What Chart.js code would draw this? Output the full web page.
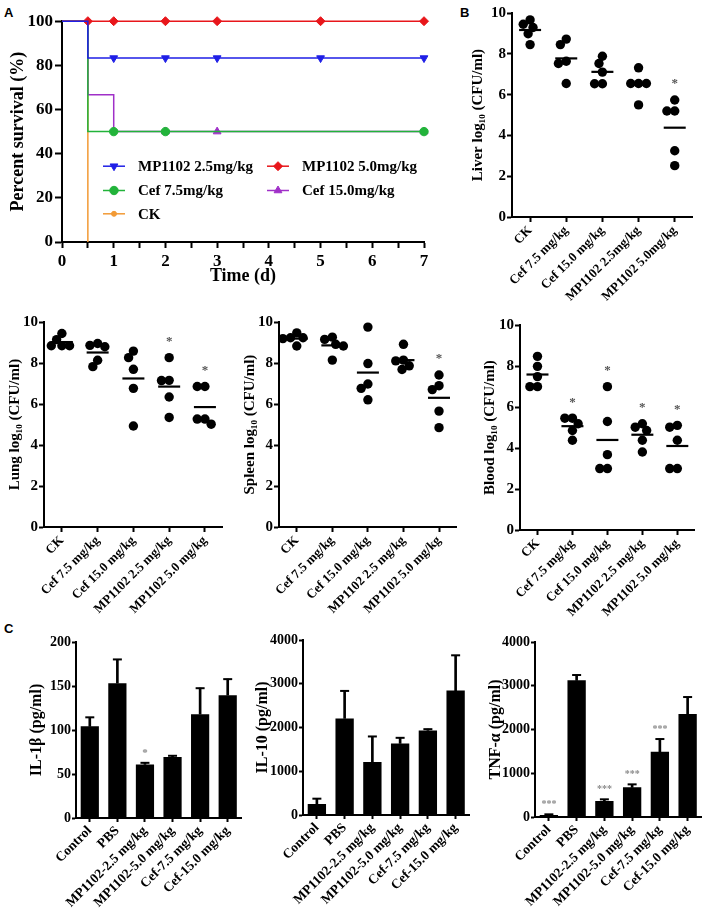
<!DOCTYPE html>
<html><head><meta charset="utf-8">
<script src="https://cdn.jsdelivr.net/npm/chart.js@4/dist/chart.umd.min.js"></script>
<style>
html,body{margin:0;padding:0;background:#fff;}
body{width:708px;height:918px;position:relative;overflow:hidden;}
canvas{position:absolute;}
.pl{position:absolute;font:bold 13px "Liberation Sans",Arial,sans-serif;color:#000;line-height:13px;}
</style></head>
<body>
<div class="pl" style="left:4px;top:6px">A</div>
<div class="pl" style="left:460px;top:6px">B</div>
<div class="pl" style="left:4px;top:622px">C</div>
<script>
// ================= DATA =================
// Panel A: survival
const survTimes = [0, 0.5, 1, 2, 3, 5, 7];
const survMP25  = [100, 83.3, 83.3, 83.3, 83.3, 83.3, 83.3];
const survMP50  = [100, 100, 100, 100, 100, 100, 100];
const survCef75 = [100, 50, 50, 50, 50, 50, 50];
const survCef15 = [100, 66.7, 50, 50, 50, 50, 50];
const survCK    = [100, 0];
const marksMP25  = [1, 2, 3, 5, 7];
const marksMP50  = [0.5, 1, 2, 3, 5, 7];
const marksCef75 = [1, 2, 7];
const marksCef15 = [2, 3, 7];
const marksCK    = [];
const survLabels = ['MP1102 2.5mg/kg', 'MP1102 5.0mg/kg', 'Cef 7.5mg/kg', 'Cef 15.0mg/kg', 'CK'];
const survXTicks = [0, 1, 2, 3, 4, 5, 6, 7];

// Panel B: bacterial loads (log10 CFU/ml)
const liverCats = ['CK', 'Cef 7.5 mg/kg', 'Cef 15.0 mg/kg', 'MP1102 2.5mg/kg', 'MP1102 5.0mg/kg'];
const organCats = ['CK', 'Cef 7.5 mg/kg', 'Cef 15.0 mg/kg', 'MP1102 2.5 mg/kg', 'MP1102 5.0 mg/kg'];
const liverCK   = [9.46, 9.30, 9.67, 8.99, 8.46];
const liverCef75= [8.46, 8.73, 7.64, 7.53, 6.55];
const liverCef15= [7.89, 7.11, 7.53, 6.54, 6.54];
const liverMP25 = [7.32, 6.55, 6.55, 6.55, 5.50];
const liverMP50 = [5.74, 5.20, 5.20, 3.25, 2.52];
const liverSig  = ['', '', '', '', '*'];

const lungCK    = [9.45, 9.15, 8.85, 8.85, 8.85];
const lungCef75 = [8.87, 8.96, 8.80, 8.14, 7.83];
const lungCef15 = [8.59, 8.27, 7.70, 6.77, 4.93];
const lungMP25  = [8.27, 7.15, 7.16, 6.35, 5.35];
const lungMP50  = [6.86, 6.86, 5.27, 5.02, 5.27];
const lungSig   = ['', '', '', '*', '*'];

const spleenCK    = [9.48, 9.24, 9.24, 9.20, 8.84];
const spleenCef75 = [9.27, 9.16, 8.92, 8.84, 8.15];
const spleenCef15 = [9.76, 7.98, 6.98, 6.77, 6.21];
const spleenMP25  = [8.92, 8.11, 8.15, 7.69, 7.87];
const spleenMP50  = [7.42, 6.90, 6.71, 5.66, 4.85];
const spleenSig   = ['', '', '', '', '*'];

const bloodCK    = [8.48, 7.99, 7.49, 7.00, 7.00];
const bloodCef75 = [5.46, 5.46, 5.19, 4.86, 4.38];
const bloodCef15 = [7.00, 5.30, 3.68, 3.00, 3.00];
const bloodMP25  = [5.19, 5.02, 4.86, 4.38, 3.81];
const bloodMP50  = [5.02, 5.11, 4.38, 3.00, 3.00];
const bloodSig   = ['', '*', '*', '*', '*'];

// Panel C: cytokines (mean, SD)
const cytoCats = ['Control', 'PBS', 'MP1102-2.5 mg/kg', 'MP1102-5.0 mg/kg', 'Cef-7.5 mg/kg', 'Cef-15.0 mg/kg'];
const il1bMean = [104.2, 153.2, 60.8, 69.2, 117.9, 139.5];
const il1bErr  = [10.2, 27.0, 1.9, 1.5, 29.6, 18.3];
const il1bSig  = ['', '', '*', '', '', ''];
const il10Mean = [251, 2205, 1209, 1635, 1932, 2844];
const il10Err  = [122, 631, 586, 129, 30, 806];
const il10Sig  = ['', '', '', '', '', ''];
const tnfMean  = [46, 3123, 366, 678, 1493, 2353];
const tnfErr   = [15, 122, 38, 68, 289, 389];
const tnfSig   = ['***', '', '***', '***', '***', ''];

// ================= HELPERS =================
const SERIF = '"Liberation Serif", "Times New Roman", "DejaVu Serif", serif';
Chart.defaults.font.family = SERIF;
Chart.defaults.color = '#000';

function makeCanvas(left, top, w, h) {
  const c = document.createElement('canvas');
  c.width = Math.round(w); c.height = Math.round(h);
  c.style.left = Math.round(left) + 'px';
  c.style.top = Math.round(top) + 'px';
  c.style.width = Math.round(w) + 'px';
  c.style.height = Math.round(h) + 'px';
  document.body.appendChild(c);
  return c;
}
function bf(size) { return {family: SERIF, size: size, weight: 'bold'}; }
const axisGrid = (tl) => ({display: true, drawOnChartArea: false, drawTicks: true, tickLength: tl, tickColor: '#000', tickWidth: 2});
const axisBorder = {display: true, color: '#000', width: 2};
const plainNum = (v) => String(v);

// beeswarm-style horizontal spread of dots sharing similar values
function swarm(vals, pxY, pxX, d) {
  const order = vals.map((v, i) => i).sort((a, b) => vals[b] - vals[a]);
  const placed = []; const off = new Array(vals.length).fill(0);
  for (const i of order) {
    const y = vals[i] * pxY; let best = null;
    for (let k = 0; k < 200 && best === null; k++) {
      const cands = k === 0 ? [0] : [-k * 0.5, k * 0.5];
      for (const c of cands) {
        if (placed.every(p => Math.hypot(p.x - c, p.y - y) >= d)) { best = c; break; }
      }
    }
    placed.push({x: best, y: y}); off[i] = best / pxX;
  }
  return off;
}

const sigPlugin = {
  id: 'sigMarks',
  afterDatasetsDraw(chart, args, opts) {
    if (!opts || !opts.items) return;
    const {ctx} = chart; const ys = chart.scales.y, xs = chart.scales.x;
    ctx.save();
    ctx.fillStyle = opts.color || '#555';
    ctx.font = 'bold ' + (opts.size || 13) + 'px ' + SERIF;
    ctx.textAlign = 'center'; ctx.textBaseline = 'middle';
    opts.items.forEach(it => {
      if (!it.text) return;
      ctx.fillText(it.text, xs.getPixelForValue(it.x), ys.getPixelForValue(it.y) - opts.gap);
    });
    ctx.restore();
  }
};

const baseOpts = {
  responsive: false, maintainAspectRatio: false, animation: false, events: [],
  devicePixelRatio: 1
};

// ================= PANEL A =================
(function () {
  const area = {l: 62, r: 424, t: 21, b: 242};
  const left = 0, padTop = 12, padRight = 14, xH = 48;
  const yW = area.l - left;
  const cv = makeCanvas(left, area.t - padTop, yW + (area.r - area.l) + padRight, padTop + (area.b - area.t) + xH);
  const series = [
    {vals: survMP25, marks: marksMP25, color: '#1f1fe6', style: 'triangle', rot: 180, r: 4.5, lr: 4.5},
    {vals: survMP50, marks: marksMP50, color: '#e8161b', style: 'rectRot', rot: 0, r: 4.5, lr: 4.5},
    {vals: survCef75, marks: marksCef75, color: '#22b33a', style: 'circle', rot: 0, r: 4.2, lr: 4.2},
    {vals: survCef15, marks: marksCef15, color: '#a030c8', style: 'triangle', rot: 0, r: 4.5, lr: 4.5},
    {vals: survCK, marks: marksCK, color: '#f29a35', style: 'circle', rot: 0, r: 2.5, lr: 2.5}
  ];
  const datasets = series.map((s, k) => ({
    label: survLabels[k],
    data: s.vals.map((v, i) => ({x: survTimes[i], y: v})),
    stepped: 'before',
    borderColor: s.color, backgroundColor: s.color, borderWidth: 1.5,
    pointStyle: s.style, rotation: s.rot, pointBorderWidth: 1,
    pointRadius: (ctx) => (ctx.raw && s.marks.includes(ctx.raw.x)) ? s.r : 0,
    legendR: s.lr, fill: false, clip: false, tension: 0
  }));
  const legendPlugin = {
    id: 'survLegend',
    afterDatasetsDraw(chart) {
      const {ctx, chartArea: a} = chart;
      ctx.save();
      chart.data.datasets.forEach((ds, i) => {
        const col = i % 2, row = Math.floor(i / 2);
        const x0 = a.left + [41, 205][col];
        const y = a.top + [145, 169.3, 192.6][row];
        ctx.strokeStyle = ds.borderColor; ctx.lineWidth = 1.5;
        ctx.beginPath(); ctx.moveTo(x0, y); ctx.lineTo(x0 + 22, y); ctx.stroke();
        ctx.fillStyle = ds.borderColor; ctx.lineWidth = 1;
        if (Chart.helpers && Chart.helpers.drawPoint) {
          Chart.helpers.drawPoint(ctx, {pointStyle: ds.pointStyle, rotation: ds.rotation || 0, radius: ds.legendR, borderWidth: 1}, x0 + 11, y);
        }
        ctx.fillStyle = '#000'; ctx.font = 'bold 15px ' + SERIF;
        ctx.textAlign = 'left'; ctx.textBaseline = 'middle';
        ctx.fillText(ds.label, x0 + 35, y + 1);
      });
      ctx.restore();
    }
  };
  new Chart(cv, {
    type: 'line',
    data: {datasets},
    options: Object.assign({}, baseOpts, {
      layout: {padding: {top: padTop, right: padRight, left: 0, bottom: 0}},
      plugins: {legend: {display: false}, tooltip: {enabled: false}},
      scales: {
        x: {type: 'linear', min: 0, max: 7,
            afterBuildTicks: (s) => { s.ticks = []; for (let v = 0; v <= 7; v += 0.5) s.ticks.push({value: v}); },
            afterFit: (s) => { s.height = xH; },
            ticks: {callback: (v) => survXTicks.includes(v) ? String(v) : '', autoSkip: false, maxRotation: 0, font: bf(17), color: '#000', padding: 3},
            grid: axisGrid(6), border: axisBorder,
            title: {display: true, text: 'Time (d)', font: {family: SERIF, size: 18, weight: 'bold', lineHeight: 1}, color: '#000', padding: {top: 0, bottom: 5}}},
        y: {min: 0, max: 100,
            afterFit: (s) => { s.width = yW; },
            ticks: {stepSize: 20, font: bf(17), color: '#000', padding: 2, callback: plainNum},
            grid: axisGrid(7), border: axisBorder,
            title: {display: true, text: 'Percent survival (%)', font: {family: SERIF, size: 18, weight: 'bold', lineHeight: 1}, color: '#000', padding: {top: 9, bottom: 0}}}
      }
    }),
    plugins: [legendPlugin]
  });
})();

// ================= SCATTER PANELS =================
function scatterPanel(cfg) {
  const {cats, groups, sig, title, area, left, right, padTitle} = cfg;
  const padTop = 12, xH = 100;
  const yW = area.l - left;
  const w = right - left, padRight = right - area.r;
  const cv = makeCanvas(left, area.t - padTop, w, padTop + (area.b - area.t) + xH);
  const pxY = (area.b - area.t) / 10, pxX = (area.r - area.l) / cats.length;
  const dots = [], means = [], sigItems = [];
  groups.forEach((vals, i) => {
    const offs = swarm(vals, pxY, pxX, 8);
    vals.forEach((v, j) => dots.push({x: i + offs[j], y: v}));
    means.push({x: i, y: vals.reduce((a, b) => a + b, 0) / vals.length});
    sigItems.push({x: i, y: Math.max.apply(null, vals), text: sig[i]});
  });
  new Chart(cv, {
    type: 'scatter',
    data: {datasets: [
      {data: dots, pointStyle: 'circle', pointRadius: 4.7, backgroundColor: '#000', borderColor: '#000', borderWidth: 0, clip: false},
      {data: means, pointStyle: 'line', pointRadius: 11, borderColor: '#000', backgroundColor: '#000', borderWidth: 2.2, clip: false}
    ]},
    options: Object.assign({}, baseOpts, {
      layout: {padding: {top: padTop, right: padRight, left: 0, bottom: 0}},
      plugins: {legend: {display: false}, tooltip: {enabled: false},
                sigMarks: {items: sigItems, gap: 16, size: 13, color: '#555'}},
      scales: {
        x: {type: 'linear', min: -0.5, max: cats.length - 0.5,
            afterBuildTicks: (s) => { s.ticks = cats.map((c, i) => ({value: i})); },
            afterFit: (s) => { s.height = xH; },
            ticks: {callback: (v) => cats[v] !== undefined ? cats[v] : '', autoSkip: false, maxRotation: 45, minRotation: 45, font: bf(13), color: '#000', padding: 1},
            grid: axisGrid(5), border: axisBorder},
        y: {min: 0, max: 10,
            afterFit: (s) => { s.width = yW; },
            ticks: {stepSize: 2, font: bf(15), color: '#000', padding: 1, callback: plainNum},
            grid: axisGrid(5), border: axisBorder,
            title: {display: true, text: title, font: {family: SERIF, size: 15, weight: 'bold', lineHeight: 1}, color: '#000', padding: {top: padTitle, bottom: 0}}}
      }
    }),
    plugins: [sigPlugin]
  });
}

scatterPanel({cats: liverCats, groups: [liverCK, liverCef75, liverCef15, liverMP25, liverMP50], sig: liverSig,
  title: 'Liver log\u2081\u2080 (CFU/ml)', area: {l: 512, r: 697, t: 12, b: 217}, left: 470, right: 706, padTitle: 1});
scatterPanel({cats: organCats, groups: [lungCK, lungCef75, lungCef15, lungMP25, lungMP50], sig: lungSig,
  title: 'Lung log\u2081\u2080 (CFU/ml)', area: {l: 44, r: 230, t: 321, b: 527}, left: 0, right: 236, padTitle: 7.5});
scatterPanel({cats: organCats, groups: [spleenCK, spleenCef75, spleenCef15, spleenMP25, spleenMP50], sig: spleenSig,
  title: 'Spleen log\u2081\u2080 (CFU/ml)', area: {l: 279, r: 464, t: 321, b: 527}, left: 236, right: 470, padTitle: 6.5});
scatterPanel({cats: organCats, groups: [bloodCK, bloodCef75, bloodCef15, bloodMP25, bloodMP50], sig: bloodSig,
  title: 'Blood log\u2081\u2080 (CFU/ml)', area: {l: 520, r: 704, t: 324, b: 530}, left: 476, right: 708, padTitle: 6.5});

// ================= BAR PANELS =================
function barPanel(cfg) {
  const {cats, means, errs, sig, title, area, left, right, yMax, yStep, padTitle, sigSize} = cfg;
  const padTop = 12, xH = 918 - area.b;
  const yW = area.l - left;
  const w = right - left, padRight = right - area.r;
  const cv = makeCanvas(left, area.t - padTop, w, padTop + (area.b - area.t) + xH);
  const tops = means.map((m, i) => m + errs[i]);
  const sigItems = cats.map((c, i) => ({x: i, y: tops[i], text: sig[i]}));
  new Chart(cv, {
    type: 'bar',
    data: {labels: cats, datasets: [
      {type: 'line', data: tops, showLine: false, pointStyle: 'line', pointRadius: 4.5, borderColor: '#000', backgroundColor: '#000', borderWidth: 2, clip: false},
      {type: 'bar', data: means.map((m, i) => [m, tops[i]]), backgroundColor: '#000', grouped: false, barThickness: 2},
      {type: 'bar', data: means, backgroundColor: '#000', grouped: false, barPercentage: 0.66, categoryPercentage: 1}
    ]},
    options: Object.assign({}, baseOpts, {
      layout: {padding: {top: padTop, right: padRight, left: 0, bottom: 0}},
      plugins: {legend: {display: false}, tooltip: {enabled: false},
                sigMarks: {items: sigItems, gap: 10, size: sigSize, color: '#8a8a8a'}},
      scales: {
        x: {type: 'category', offset: true,
            afterFit: (s) => { s.height = xH; },
            ticks: {autoSkip: false, maxRotation: 45, minRotation: 45, font: bf(13.5), color: '#000', padding: 1},
            grid: Object.assign(axisGrid(4), {offset: false}), border: axisBorder},
        y: {min: 0, max: yMax,
            afterFit: (s) => { s.width = yW; },
            ticks: {stepSize: yStep, font: bf(14), color: '#000', padding: 1, callback: plainNum},
            grid: axisGrid(4), border: axisBorder,
            title: {display: true, text: title, font: {family: SERIF, size: 16, weight: 'bold', lineHeight: 1}, color: '#000', padding: {top: padTitle, bottom: 0}}}
      }
    }),
    plugins: [sigPlugin]
  });
}

barPanel({cats: cytoCats, means: il1bMean, errs: il1bErr, sig: il1bSig, title: 'IL-1\u03b2 (pg/ml)',
  area: {l: 76, r: 243, t: 642, b: 818}, left: 20, right: 248, yMax: 200, yStep: 50, padTitle: 8.7, sigSize: 11});
barPanel({cats: cytoCats, means: il10Mean, errs: il10Err, sig: il10Sig, title: 'IL-10 (pg/ml)',
  area: {l: 303, r: 470, t: 640, b: 815}, left: 250, right: 476, yMax: 4000, yStep: 1000, padTitle: 5.3, sigSize: 11});
barPanel({cats: cytoCats, means: tnfMean, errs: tnfErr, sig: tnfSig, title: 'TNF-\u03b1 (pg/ml)',
  area: {l: 535, r: 703, t: 642, b: 817}, left: 482, right: 708, yMax: 4000, yStep: 1000, padTitle: 6, sigSize: 10});
</script>
</body></html>
